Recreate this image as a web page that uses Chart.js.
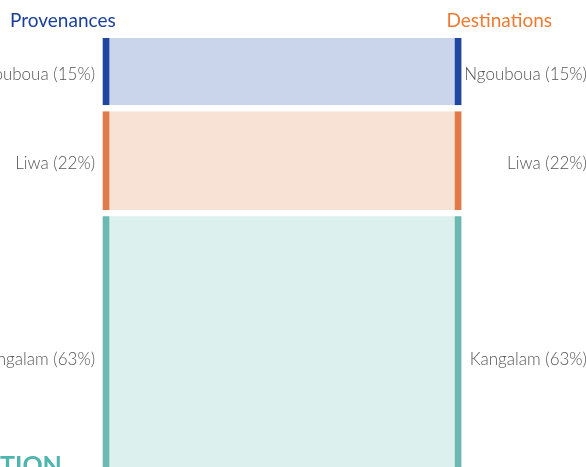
<!DOCTYPE html>
<html>
<head>
<meta charset="utf-8">
<script src="https://cdn.jsdelivr.net/npm/chart.js@4"></script>
<style>
html,body{margin:0;padding:0;background:#fff;overflow:hidden;}
#c{display:block;}
</style>
</head>
<body>
<canvas id="c" width="586" height="467"></canvas>
<script>
// ---- data ----
const nodeNames = ['Ngouboua', 'Liwa', 'Kangalam'];
const shares = [15, 22, 63];            // % of flows (left = right)
const columns = ['source', 'flow', 'target'];
const sourceTitle = 'Provenances';
const targetTitle = 'Destinations';
const footerText = 'TION';

// ---- styles ----
const nodeColors = ['#1f46a0', '#e07a4a', '#6cb9b2'];
const flowColors = ['#cad4eb', '#f8e1d5', '#dcf0ee'];
const gapUnits = 1.57;

// cumulative extents for each node (stacked with gaps)
const extents = [];
let acc = 0;
shares.forEach((v, i) => { extents.push([acc, acc + v]); acc += v + gapUnits; });

const datasets = [];
shares.forEach((v, i) => {
  datasets.push({
    label: nodeNames[i] + ' flow',
    data: [null, extents[i], null],
    backgroundColor: flowColors[i],
    barThickness: 346,
    grouped: false,
    borderSkipped: false,
    order: 2
  });
  datasets.push({
    label: nodeNames[i],
    data: [extents[i], null, extents[i]],
    backgroundColor: nodeColors[i],
    barThickness: 6,
    grouped: false,
    borderSkipped: false,
    order: 1
  });
});

const labelPlugin = {
  id: 'sankeyLabels',
  afterDatasetsDraw(chart) {
    const ctx = chart.ctx;
    const xs = chart.scales.x, ys = chart.scales.y;
    ctx.save();
    ctx.font = '300 17px Lato, "Open Sans", sans-serif';
    ctx.fillStyle = '#555555';
    ctx.textBaseline = 'middle';
    const xl = xs.getPixelForValue(0);
    shares.forEach((v, i) => {
      const y = ys.getPixelForValue((extents[i][0] + extents[i][1]) / 2) + 3;
      const txt = nodeNames[i] + ' (' + v + '%)';
      ctx.textAlign = 'right';
      ctx.fillText(txt, xl - 11, y);
      ctx.fillText(txt, 587, y);
    });
    ctx.textBaseline = 'alphabetic';
    ctx.font = '19px Lato, "Open Sans", sans-serif';
    ctx.textAlign = 'left';
    ctx.fillStyle = '#1a3f9c';
    ctx.fillText(sourceTitle, 10, 27);
    ctx.fillStyle = '#ef7b33';
    ctx.textAlign = 'right';
    ctx.fillText(targetTitle, 552, 27);
    ctx.textAlign = 'left';
    ctx.font = 'bold 25px Lato, "Open Sans", sans-serif';
    ctx.fillStyle = '#4fb5ae';
    ctx.fillText(footerText, 0, 474);
    ctx.restore();
  }
};

new Chart(document.getElementById('c'), {
  type: 'bar',
  data: { labels: columns, datasets },
  options: {
    responsive: false,
    animation: false,
    layout: { padding: { top: 38, bottom: 0, left: 18, right: 39.9 } },
    plugins: { legend: { display: false }, tooltip: { enabled: false } },
    scales: {
      x: { type: 'category', offset: true, display: false },
      y: { type: 'linear', reverse: true, min: 0, max: 429 / 4.45, display: false }
    }
  },
  plugins: [labelPlugin]
});
</script>
</body>
</html>
